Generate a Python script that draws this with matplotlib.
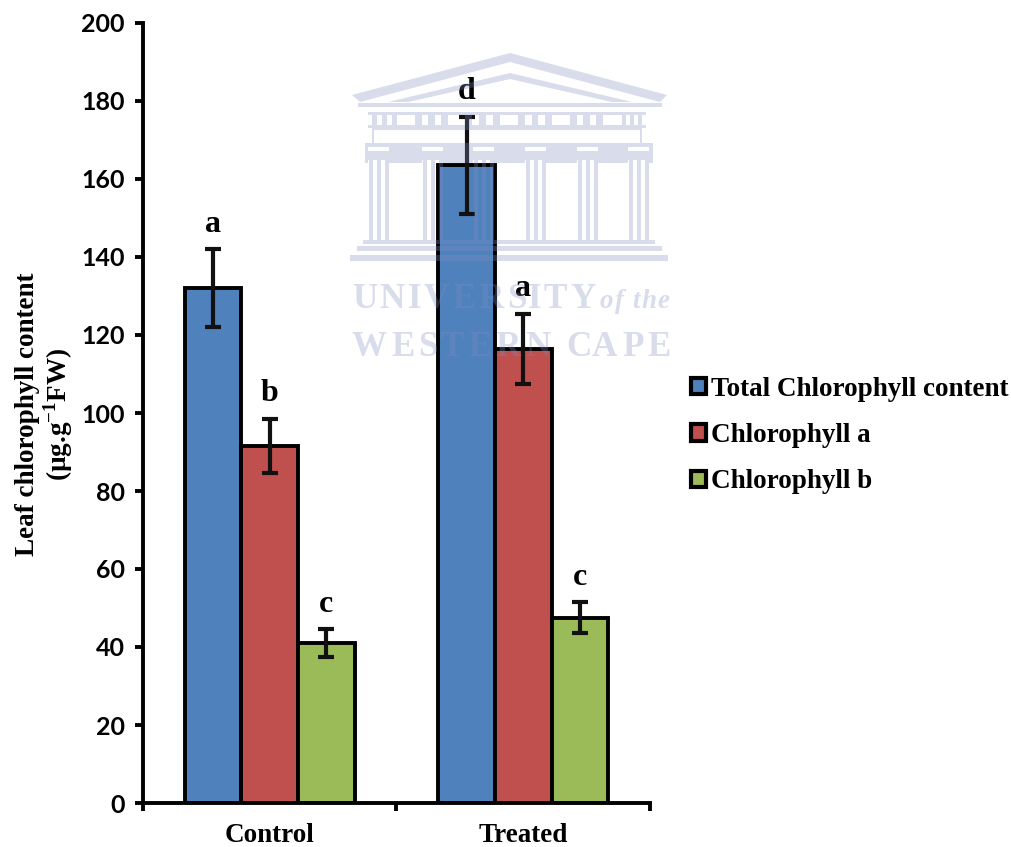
import numpy as np
import matplotlib
matplotlib.use("Agg")
import matplotlib.pyplot as plt
from matplotlib.patches import Patch, Polygon, Rectangle
from matplotlib.textpath import TextPath
from matplotlib.font_manager import FontProperties

groups = ["Control", "Treated"]
series_names = ["Total Chlorophyll content", "Chlorophyll a", "Chlorophyll b"]
total_vals = [132, 163.5]
chl_a_vals = [91.5, 116.5]
chl_b_vals = [41, 47.5]
total_err = [10, 12.5]
chl_a_err = [7, 9]
chl_b_err = [3.5, 4]
total_letters = ["a", "d"]
chl_a_letters = ["b", "a"]
chl_b_letters = ["c", "c"]
colors = ["#4f81bd", "#c0504d", "#9bbb59"]

W, H = 1012, 847
plt.rcParams["mathtext.fontset"] = "custom"
plt.rcParams["mathtext.bf"] = "Liberation Serif:bold"
plt.rcParams["mathtext.rm"] = "Liberation Serif:bold"

fig = plt.figure(figsize=(W / 100, H / 100), dpi=100)

# watermark colour: over white this comes out as a pale lavender
WM = "#7f8bbd"
WM_A = 0.3


def spaced(ax, s, x0, x1, y, size, style="normal"):
    # spread letters evenly between x0 and x1 (pixel coords)
    fp = FontProperties(family="Liberation Serif", weight="bold", style=style)
    widths = [TextPath((0, 0), c, size=size, prop=fp).get_extents().width for c in s]
    gap = (x1 - x0 - sum(widths)) / max(len(s) - 1, 1)
    x = x0
    for c, w in zip(s, widths):
        ax.text(x, y, c, fontproperties=fp, fontsize=size * 0.72, color=WM, alpha=WM_A,
                va="baseline", ha="left")
        x += w + gap


def box(ax, x0, y0, x1, y1):
    ax.add_patch(Rectangle((x0, y0), x1 - x0, y1 - y0, fc=WM, ec="none", alpha=WM_A))


def watermark(ax):
    # university crest, in image pixel coords
    for pts in ([(352, 95), (510, 53), (667, 95), (660, 102), (510, 62), (360, 102)],
                [(388, 102), (510, 73), (632, 102), (612, 102), (510, 79), (408, 102)]):
        ax.add_patch(Polygon(pts, fc=WM, ec="none", alpha=WM_A))
    box(ax, 358, 103, 662, 107)
    # frieze
    box(ax, 368, 112, 646, 115)
    box(ax, 368, 125, 646, 128)
    edges = [372, 397, 415, 448, 465, 500, 518, 552, 570, 603, 622, 642]
    for a, b in zip(edges[::2], edges[1::2]):
        w = (b - a) / 5
        for k in (0, 2, 4):
            box(ax, a + k * w, 115, a + (k + 1) * w, 125)
    box(ax, 372, 128, 642, 130)
    box(ax, 372, 130, 374, 143)
    box(ax, 640, 130, 642, 143)
    # band above the columns, with gaps for capitals
    cols = [368, 422, 473, 525, 577, 628]
    box(ax, 365, 143, 653, 147)
    box(ax, 365, 151, 653, 160)
    stops = [365] + [c for col in cols for c in (col, col + 21)] + [653]
    for a, b in zip(stops[::2], stops[1::2]):
        box(ax, a, 147, b, 151)
        box(ax, a, 160, b, 163)
    for c in cols:
        for dx in (1, 9, 17):
            box(ax, c + dx, 160, c + dx + 4, 240)
    box(ax, 363, 240, 655, 244)
    box(ax, 357, 246, 662, 251)
    box(ax, 350, 255, 668, 261)
    spaced(ax, "UNIVERSITY", 352, 594, 308, 35)
    spaced(ax, "of", 600, 626, 308, 27, style="italic")
    spaced(ax, "the", 632, 668, 308, 27, style="italic")
    spaced(ax, "WESTERN", 352, 550, 356, 35)
    spaced(ax, "CAPE", 566, 668, 356, 35)


ax = fig.add_axes([143 / W, 1 - 803 / H, (650 - 143) / W, (803 - 23) / H], zorder=1)

x = np.arange(len(groups)) + 0.5
bw = 0.223
all_vals = [total_vals, chl_a_vals, chl_b_vals]
all_errs = [total_err, chl_a_err, chl_b_err]
all_letters = [total_letters, chl_a_letters, chl_b_letters]
for i in range(3):
    xs = x + (i - 1) * bw
    ax.bar(xs, all_vals[i], bw, color=colors[i], edgecolor="black", linewidth=2.8,
           yerr=all_errs[i], ecolor="#111111", capsize=5.5,
           error_kw=dict(elinewidth=3, capthick=3))
    for j in range(2):
        ax.annotate(all_letters[i][j], (xs[j], all_vals[i][j] + all_errs[i][j]),
                    xytext=(0, 12.5), textcoords="offset points", ha="center", va="baseline",
                    family="Liberation Serif", weight="bold", fontsize=23)

ax.set_xlim(0, 2)
ax.set_ylim(0, 200)
ax.set_yticks(np.arange(0, 201, 20))
ax.set_xticks([0, 1, 2])
ax.set_xticklabels([])
ax.set_xticks(x, minor=True)
ax.set_xticklabels(groups, minor=True, family="Liberation Serif", weight="bold", fontsize=19.5)
ax.tick_params(axis="x", which="minor", length=0, pad=14.5)
ax.tick_params(axis="both", which="major", width=2.8, length=6, direction="out")
ax.tick_params(axis="y", pad=7)
for t in ax.get_yticklabels():
    t.set_family("Lato")
    t.set_weight("bold")
    t.set_fontsize(18)
ax.spines["top"].set_visible(False)
ax.spines["right"].set_visible(False)
ax.spines["left"].set_linewidth(2.8)
ax.spines["bottom"].set_linewidth(2.8)

fig.text(45 / W, 1 - 414 / H, "Leaf chlorophyll content\n" + r"(µg.g$^{\mathbf{-1}}$FW)", rotation=90,
         ha="center", va="center", ma="center", family="Liberation Serif", weight="bold",
         fontsize=19.5, linespacing=1.05)

handles = [Patch(facecolor=c, edgecolor="black", linewidth=3) for c in colors]
fig.legend(handles, series_names, loc="upper left", bbox_to_anchor=(669 / W, 1 - 355 / H), frameon=False,
           prop=FontProperties(family="Liberation Serif", weight="bold", size=19.5),
           handlelength=0.55, handleheight=0.55, handletextpad=0.2, labelspacing=0.79, borderpad=0.3)

top = fig.add_axes([0, 0, 1, 1], zorder=2)
top.set_xlim(0, W)
top.set_ylim(H, 0)
top.axis("off")
watermark(top)

fig.savefig("out.png", dpi=100, facecolor="white")
